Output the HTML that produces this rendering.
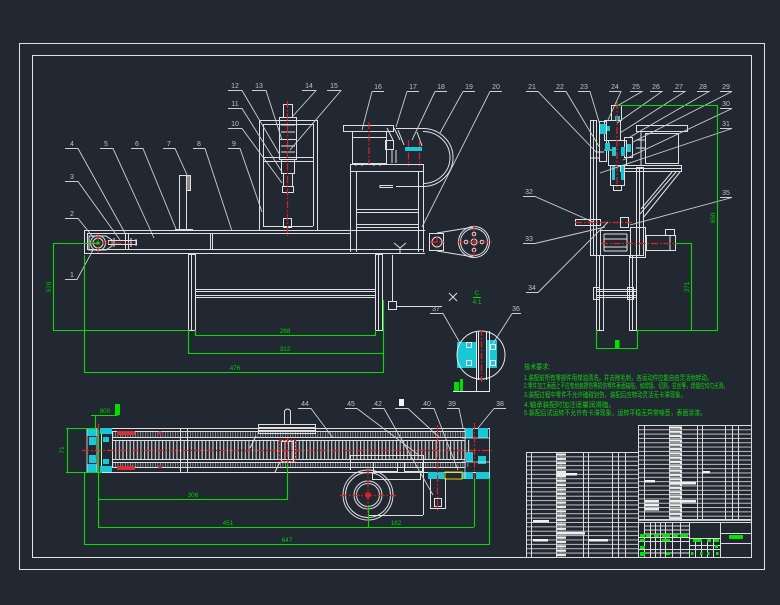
<!DOCTYPE html>
<html><head><meta charset="utf-8"><style>
html,body{margin:0;padding:0;background:#222831;}
svg{display:block}
text{font-family:"Liberation Sans","Noto Sans CJK SC",sans-serif;}
</style></head><body>
<svg width="780" height="605" viewBox="0 0 780 605" xmlns="http://www.w3.org/2000/svg">
<defs>
<pattern id="slat" x="0" y="0" width="3.6" height="10" patternUnits="userSpaceOnUse"><rect x="0" y="0" width="1.1" height="10" fill="#d8d8d8"/></pattern>
<pattern id="tick" x="0" y="0" width="2.5" height="10" patternUnits="userSpaceOnUse"><rect x="0" y="0" width="0.8" height="10" fill="#9a9a9a"/></pattern>
<pattern id="rowsL" x="0" y="452" width="10" height="4.375" patternUnits="userSpaceOnUse"><rect x="0" y="0" width="10" height="0.9" fill="#cfcfcf"/></pattern>
<pattern id="rowsR" x="0" y="425" width="10" height="4.32" patternUnits="userSpaceOnUse"><rect x="0" y="0" width="10" height="0.9" fill="#cfcfcf"/></pattern>
<pattern id="blobL" x="557" y="452" width="40" height="4.375" patternUnits="userSpaceOnUse"><rect x="0" y="1.4" width="9" height="2.2" fill="#f0f0f0"/></pattern>
<pattern id="blobR" x="670" y="425" width="40" height="4.32" patternUnits="userSpaceOnUse"><rect x="0" y="1.4" width="12" height="2.2" fill="#f0f0f0"/></pattern>
<pattern id="blobS" x="0" y="452" width="40" height="4.375" patternUnits="userSpaceOnUse"><rect x="0" y="1.4" width="2" height="2.2" fill="#e8e8e8"/></pattern>
</defs>
<rect width="780" height="605" fill="#222831"/>

<!-- frame -->
<g fill="none" stroke="#e2e2e2" stroke-width="1">
<rect x="19.5" y="43.5" width="745" height="526"/>
<rect x="32.5" y="55.5" width="719" height="502"/>
</g>

<!-- ================= FRONT VIEW ================= -->
<g fill="none" stroke="#e0e0e0" stroke-width="1">
<path d="M84 230.5H425 M87 233.5H350 M87 249.5H350 M84 253.5H425 M84.5 230V254 M87.5 233V250 M125.5 233V250 M128.5 233V250 M210.5 233V250 M212.5 233V250"/>
<circle cx="98" cy="243" r="7.5"/><circle cx="98" cy="243" r="5"/>
<path d="M89 236H106L112 240V246L106 250H89Z"/>
<rect x="108.5" y="240.5" width="28" height="4"/>
<path d="M114 238V247 M131 238V247 M136 239V246"/>
<rect x="179.5" y="175.5" width="7" height="54"/>
<rect x="186.5" y="175.5" width="4" height="15" fill="#888"/>
<path d="M175 229.5H193"/>
<rect x="188.5" y="254.5" width="7" height="76"/><path d="M191.5 255V330"/>
<rect x="375.5" y="254.5" width="7" height="76"/><path d="M378.5 255V330"/>
<path d="M195 289.5H375 M195 291.5H375 M195 295.5H375 M195 297.5H375"/>
<rect x="259.5" y="120.5" width="58" height="110"/>
<path d="M263.5 124V226 M313.5 124V226 M263 124.5H313 M263 157.5H313 M263 161.5H313 M263 226.5H313"/>
<rect x="283.5" y="104.5" width="9" height="13"/>
<rect x="279.5" y="117.5" width="17" height="22"/>
<rect x="279.5" y="139.5" width="17" height="20"/>
<rect x="281.5" y="159.5" width="13" height="14"/>
<rect x="283.5" y="173.5" width="9" height="13"/>
<rect x="282.5" y="186.5" width="11" height="6"/>
<rect x="283.5" y="218.5" width="8" height="9"/>
<path d="M281 125H295 M281 132H295 M281 146H295 M281 152H295"/>
<rect x="343.5" y="125.5" width="50" height="6"/>
<rect x="352.5" y="131.5" width="34" height="32"/>
<path d="M352 137.5H386 M356 163V166 M362 163V166 M374 163V166 M380 163V166"/>
<rect x="350.5" y="164.5" width="73" height="7"/>
<path d="M350.5 172V252 M356.5 172V252 M418.5 172V252 M423.5 172V252 M356 209.5H418 M356 212.5H418 M356 224.5H418 M356 227.5H418 M350 249.5H423"/>
<path d="M393 185.5H380V187.5H393"/>
<path d="M394 243L400 248L406 243 M400 248V253"/>
<path d="M387 128L393 140 M394 128L400 140 M398 130L404 145 M417 132L422 146"/>
<rect x="385.5" y="140.5" width="8" height="9"/>
<path d="M392 150V163 M396 150V163"/>
<path d="M396 128.5H423A30 29 0 0 1 423 186.5H396"/>
<path d="M423 131.5A27 26 0 0 1 423 183.5"/>
<rect x="429.5" y="233.5" width="14" height="17"/>
<circle cx="437" cy="242" r="5"/>
<path d="M437 233L474 227 M437 251L474 257"/>
<circle cx="474" cy="242" r="15.5"/><circle cx="474" cy="242" r="13.5"/>
<circle cx="474" cy="242" r="3"/>
<circle cx="474" cy="234" r="1.8"/><circle cx="482" cy="242" r="1.8"/><circle cx="474" cy="250" r="1.8"/><circle cx="466" cy="242" r="1.8"/>
</g>
<g stroke="#e02020" stroke-width="1.2" fill="none" stroke-dasharray="7 2 1.5 2">
<path d="M98 234V253 M90 243H130 M287.5 101V236 M369 122V164 M408.5 140V166 M419.5 140V166 M437 236V249 M430 242H445 M474 225V259 M457 242H492"/>
</g>
<rect x="405" y="147" width="17" height="4" fill="#19c8d6"/>
<rect x="96.5" y="241.5" width="3" height="3" fill="#00e000"/>

<g fill="none" stroke="#cfcfcf" stroke-width="0.9">
<path d="M65 148.5H78L125 233 M100 148.5H113L154 238 M131 148.5H143L176 229 M163 148.5H175L188 177 M193 148.5H205L232 231 M228 148.5H240L262 212 M65 181.5H78L120 240 M65 218.5H78L93 237 M65 279.5H77L93 250"/>
<path d="M228 128.5H242L282 183 M228 108.5H242L282 172 M228 90.5H242L280 155 M252 90.5H266L282 140 M302 90.5H316L292 117 M327 90.5H341L290 150"/>
<path d="M372 91.5H384 M372 91.5L362 130 M407 91.5H419 M407 91.5L396 127 M435 91.5H447 M435 91.5L412 140 M463 91.5H475 M463 91.5L440 133 M490 91.5H502 M490 91.5L422 227"/>
</g>
<g fill="#c0c0c0" font-size="7" text-anchor="middle">
<text x="72" y="146">4</text><text x="106" y="146">5</text><text x="137" y="146">6</text><text x="169" y="146">7</text><text x="199" y="146">8</text><text x="234" y="146">9</text>
<text x="72" y="179">3</text><text x="72" y="216">2</text><text x="72" y="277">1</text>
<text x="235" y="126">10</text><text x="235" y="106">11</text><text x="235" y="88">12</text><text x="259" y="88">13</text><text x="309" y="88">14</text><text x="334" y="88">15</text>
<text x="378" y="89">16</text><text x="413" y="89">17</text><text x="441" y="89">18</text><text x="469" y="89">19</text><text x="496" y="89">20</text>
</g>

<g fill="none" stroke="#00e000" stroke-width="1.1">
<path d="M53 243.5H98 M53.5 243V330 M53 330.5H188 M84.5 255V373 M84 372.5H383 M383.5 300V373 M188.5 330V353 M195 335.5H375 M195.5 330V336 M375.5 330V336 M188 353.5H383"/>
</g>
<g fill="#00c800" font-size="6.5" text-anchor="middle">
<text x="285" y="333">288</text><text x="285" y="351">312</text><text x="235" y="370">476</text>
<text transform="translate(51,287) rotate(-90)">570</text>
</g>

<!-- ================= SIDE VIEW ================= -->
<g fill="none" stroke="#e0e0e0" stroke-width="1">
<rect x="590.5" y="120.5" width="6" height="135"/><path d="M593.5 121V255"/>
<rect x="596.5" y="255.5" width="7" height="75"/><path d="M599.5 256V330"/>
<rect x="629.5" y="255.5" width="7" height="75"/><path d="M632.5 256V330"/>
<rect x="636.5" y="167.5" width="7" height="88"/><path d="M639.5 168V255"/>
<path d="M596 289.5H637 M596 291.5H637 M596 295.5H637 M596 297.5H637"/>
<rect x="593.5" y="287.5" width="6" height="12"/><rect x="627.5" y="287.5" width="6" height="12"/>
<rect x="611.5" y="105.5" width="10" height="15"/>
<rect x="604.5" y="120.5" width="16" height="20"/>
<rect x="608.5" y="140.5" width="18" height="25"/>
<rect x="610.5" y="165.5" width="14" height="20"/>
<rect x="599.5" y="121.5" width="7" height="40"/>
<rect x="624.5" y="137.5" width="8" height="20"/>
<rect x="613.5" y="185.5" width="8" height="5"/>
<path d="M604 150H612 M596 152H604 M590 158H600"/>
<rect x="620.5" y="165.5" width="61" height="6"/><path d="M622 168.5H681"/>
<rect x="645.5" y="133.5" width="33" height="30"/>
<rect x="636.5" y="125.5" width="51" height="6"/>
<path d="M641 131V165 M636 140H645 M636 148H645"/>
<path d="M676 172L640 214 M680 172L643 218 M672 172L641 209"/>
<rect x="575.5" y="219.5" width="25" height="6"/>
<rect x="620.5" y="217.5" width="8" height="10"/>
<rect x="600.5" y="230.5" width="30" height="25"/>
<path d="M604 234H627 M604 251H627 M604 239H627 M604 247H627 M604 234V251 M627 234V251"/>
<rect x="630.5" y="227.5" width="15" height="30"/>
<rect x="646.5" y="235.5" width="29" height="15"/>
<rect x="665.5" y="229.5" width="9" height="6"/>
<path d="M670 236V250"/>
</g>
<g fill="#19c8d6">
<rect x="600" y="124" width="6" height="10"/><rect x="605" y="143" width="5" height="8"/>
<rect x="612" y="147" width="4" height="9"/><rect x="621" y="147" width="4" height="9"/>
<rect x="612" y="166" width="3" height="14"/><rect x="621" y="166" width="3" height="14"/>
<rect x="607" y="126" width="3" height="5"/><rect x="615" y="116" width="5" height="4"/>
<rect x="627" y="144" width="4" height="8"/>
</g>
<g stroke="#e02020" stroke-width="1.2" fill="none" stroke-dasharray="7 2 1.5 2">
<path d="M617 102V190 M575 222.5H632 M601 243.5H678"/>
</g>
<g fill="none" stroke="#cfcfcf" stroke-width="0.9">
<path d="M526 91.5H538L597 153 M554 91.5H566L600 148 M578 91.5H590L600 125 M609 91.5H621L608 120 M630 91.5H642L617 106 M650 91.5H662L617 123 M673 91.5H685L620 133 M697 91.5H709L630 137 M720 91.5H732L633 142 M720 108.5H732L623 160 M720 128.5H732L600 173 M523 196.5H535L593 222 M523 243.5H535L605 227 M526 292.5H538L608 222 M720 197.5H732L630 225"/>
</g>
<g fill="#c0c0c0" font-size="7" text-anchor="middle">
<text x="532" y="89">21</text><text x="560" y="89">22</text><text x="584" y="89">23</text><text x="615" y="89">24</text><text x="636" y="89">25</text><text x="656" y="89">26</text><text x="679" y="89">27</text><text x="703" y="89">28</text><text x="726" y="89">29</text>
<text x="726" y="106">30</text><text x="726" y="126">31</text><text x="529" y="194">32</text><text x="529" y="241">33</text><text x="532" y="290">34</text><text x="726" y="195">35</text>
</g>
<g fill="none" stroke="#00e000" stroke-width="1.1">
<path d="M617 105.5H717.5V330.5H637 M675 243.5H691.5V330 M596.5 330V348.5H637.5V330"/>
</g>
<rect x="615" y="340" width="4.5" height="8" fill="#00e000"/>
<g fill="#00c800" font-size="6.5" text-anchor="middle">
<text transform="translate(715,218) rotate(-90)">650</text>
<text transform="translate(689,287) rotate(-90)">371</text>
</g>

<!-- ================= DETAIL C ================= -->
<g fill="none" stroke="#e0e0e0" stroke-width="1">
<path d="M392.5 255V301 M397 306.5H442"/>
<rect x="388.5" y="301.5" width="8" height="8"/>
<path d="M449 293L457 301 M457 293L449 301"/>
</g>
<rect x="457" y="342" width="20" height="26" fill="#19c8d6"/>
<rect x="486" y="340" width="11" height="28" fill="#19c8d6"/>
<g fill="none" stroke="#e8e8e8" stroke-width="1">
<circle cx="481" cy="355" r="24"/>
<path d="M476.5 331V391 M478.5 331V380 M486.5 331V380 M489.5 331V391 M453 391.5H490"/>
<rect x="466.5" y="342.5" width="5" height="5"/><rect x="490.5" y="344.5" width="5" height="5"/><rect x="466.5" y="360.5" width="5" height="5"/><rect x="490.5" y="360.5" width="5" height="5"/>
</g>
<path d="M481.5 330V382" stroke="#e02020" stroke-width="1.2" stroke-dasharray="6 2 1.5 2"/>
<rect x="454" y="382" width="5" height="9" fill="#00e000"/><rect x="460" y="379" width="3" height="12" fill="#00e000"/>
<path d="M473 297.5H481" stroke="#00e000"/>
<g fill="#00c800" font-size="6.5" text-anchor="middle"><text x="477" y="295">C</text><text x="477" y="304">4:1</text></g>
<g fill="none" stroke="#cfcfcf" stroke-width="0.9"><path d="M430 313.5H443L460 343 M512 313.5H521 M512 313.5L492 345"/></g>
<g fill="#c0c0c0" font-size="7" text-anchor="middle"><text x="436" y="311">37</text><text x="516" y="311">36</text></g>

<!-- notes -->
<g fill="#10d010" font-size="7">
<text x="524" y="369" textLength="26" lengthAdjust="spacingAndGlyphs">技术要求:</text>
<text x="524" y="380" textLength="188" lengthAdjust="spacingAndGlyphs">1.装配前所有零部件用煤油清洗，并去除毛刺，各运动件应能自由灵活地转动。</text>
<text x="524" y="388" textLength="204" lengthAdjust="spacingAndGlyphs">2.零件加工表面上不应有划痕擦伤等损伤零件表面缺陷，如焊接、切割、拉丝等，焊缝应均匀光滑。</text>
<text x="524" y="397" textLength="162" lengthAdjust="spacingAndGlyphs">3.装配过程中零件不允许磕碰划伤，装配后应转动灵活无卡滞现象。</text>
<text x="524" y="407" textLength="91" lengthAdjust="spacingAndGlyphs">4.轴承装配时加注适量润滑脂。</text>
<text x="524" y="415" textLength="182" lengthAdjust="spacingAndGlyphs">5.装配后试运转不允许有卡滞现象，运转平稳无异常噪音，表面涂漆。</text>
</g>

<!-- ================= PLAN VIEW ================= -->
<rect x="112" y="440" width="358" height="20" fill="url(#slat)"/>
<rect x="112" y="432" width="358" height="5" fill="url(#tick)"/>
<rect x="112" y="463" width="358" height="4" fill="url(#tick)"/>
<g fill="none" stroke="#e0e0e0" stroke-width="1">
<path d="M100 428.5H490 M100 431.5H465 M112 437.5H465 M112 440.5H465 M112 459.5H465 M112 462.5H465 M100 467.5H465 M100 472.5H490"/>
<path d="M101.5 428V473 M112.5 431V468"/>
<rect x="180.5" y="428.5" width="7" height="44"/>
<rect x="258.5" y="424.5" width="57" height="9"/><path d="M258 427.5H315 M258 430.5H315"/>
<path d="M284.5 424V411Q287.5 407 290.5 411V424"/>
<rect x="281.5" y="441.5" width="12" height="20"/>
<path d="M350.5 455V470 M350 455.5H423.5V515 M423 515.5H368"/>
<circle cx="368" cy="495" r="25"/><circle cx="368" cy="495" r="22.5"/>
<circle cx="368" cy="495" r="14"/><circle cx="368" cy="495" r="11.5"/>
<rect x="373.5" y="462.5" width="24" height="9"/><rect x="404.5" y="462.5" width="18" height="9"/>
<rect x="372.5" y="472.5" width="48" height="7"/>
<rect x="430.5" y="478.5" width="15" height="30"/><rect x="434.5" y="498.5" width="7" height="8"/>
<path d="M256 436L250 448 M280 462L275 472"/>
</g>
<g fill="#19c8d6">
<rect x="87" y="428" width="10" height="8"/><rect x="100" y="428" width="12" height="6"/>
<rect x="89" y="437" width="7" height="8"/><rect x="89" y="455" width="7" height="8"/>
<rect x="87" y="464" width="10" height="8"/><rect x="100" y="466" width="12" height="6"/>
<rect x="103" y="437" width="6" height="5"/><rect x="103" y="459" width="6" height="5"/>
<rect x="465" y="428" width="8" height="10"/><rect x="478" y="428" width="10" height="10"/>
<rect x="466" y="452" width="7" height="10"/><rect x="478" y="456" width="8" height="8"/>
<rect x="428" y="472" width="16" height="7"/><rect x="462" y="472" width="11" height="7"/><rect x="476" y="472" width="14" height="7"/>
</g>
<rect x="445" y="472" width="17" height="7" fill="none" stroke="#e6d200" stroke-width="1"/>
<g fill="none" stroke="#e6e6e6" stroke-width="0.8">
<path d="M87 428V472 M97 428V472 M465 428V479 M489.5 428V479 M462 438H490 M462 462H490"/>
</g>
<rect x="117" y="431" width="18" height="4" fill="#d83030"/><rect x="117" y="466" width="18" height="4" fill="#d83030"/>
<g stroke="#e02020" stroke-width="1.2" fill="none" stroke-dasharray="7 2 1.5 2">
<path d="M82 450.5H492 M98.5 424V476 M474.5 423V480 M437.5 425V511 M368 468V521 M340 495.5H396 M287.5 438V466"/>
<path d="M280 440.5H295 M280 461.5H295 M279.5 440V462 M295.5 440V462" stroke-dasharray="2 1.5"/>
</g>
<circle cx="160" cy="433" r="1.6" fill="#e02020"/><circle cx="160" cy="467" r="1.6" fill="#e02020"/>
<circle cx="368" cy="495" r="3" fill="#e02020"/>
<g fill="none" stroke="#cfcfcf" stroke-width="0.9">
<path d="M298 408.5H311L333 438 M345 408.5H357L420 456 M372 408.5H384L433 495 M395 408.5H408L440 438 M421 408.5H434L458 470 M447 408.5H459L463 428 M494 408.5H506 M494 408.5L478 428"/>
</g>
<g fill="#c0c0c0" font-size="7" text-anchor="middle">
<text x="305" y="406">44</text><text x="351" y="406">45</text><text x="378" y="406">42</text><text x="427" y="406">40</text><text x="452" y="406">39</text><text x="500" y="406">38</text>
</g>
<rect x="399" y="399" width="5" height="7" fill="#f2f2f2"/>
<g fill="none" stroke="#00e000" stroke-width="1.1">
<path d="M66 428.5H96 M66 472.5H102 M67.5 428V472 M91 415.5H118 M95.5 415V428 M84.5 472V545 M84 544.5H490 M489.5 478V545 M98.5 430V527 M98 499.5H287 M287.5 462V500 M98 527.5H474 M474.5 478V527 M368.5 505V527"/>
</g>
<rect x="115" y="404" width="5" height="11" fill="#00e000"/>
<g fill="#00c800" font-size="6.5" text-anchor="middle">
<text x="105" y="413">800</text>
<text x="193" y="497">306</text><text x="228" y="525">451</text><text x="287" y="542">647</text><text x="396" y="525">182</text>
<text transform="translate(64,450) rotate(-90)">71</text>
</g>

<!-- ================= TITLE BLOCK ================= -->
<rect x="526" y="452" width="112" height="105" fill="url(#rowsL)"/>
<rect x="557" y="452" width="14" height="105" fill="url(#blobL)"/>
<rect x="532" y="452" width="60" height="105" fill="url(#blobS)"/>
<rect x="638" y="425" width="113" height="96" fill="url(#rowsR)"/>
<rect x="670" y="425" width="16" height="96" fill="url(#blobR)"/>
<rect x="645" y="425" width="60" height="96" fill="url(#blobS)"/>
<g fill="#f0f0f0">
<rect x="533" y="520" width="16" height="2.5"/><rect x="557" y="473" width="20" height="2.5"/><rect x="557" y="532" width="28" height="2.5"/>
<rect x="588" y="539" width="20" height="2.5"/><rect x="533" y="539" width="15" height="2.5"/><rect x="645" y="480" width="10" height="2.5"/>
<rect x="645" y="500" width="14" height="2.5"/><rect x="645" y="504" width="14" height="2.5"/><rect x="645" y="508" width="14" height="2.5"/>
<rect x="670" y="482" width="26" height="2.5"/><rect x="670" y="500" width="26" height="2.5"/><rect x="702" y="471" width="8" height="2.5"/>
</g>
<g fill="none" stroke="#dcdcdc" stroke-width="1">
<rect x="526.5" y="452.5" width="112" height="105"/>
<path d="M531.5 452V557 M556.5 452V557 M583.5 452V557 M588.5 452V557 M612.5 452V557 M618.5 452V557 M625.5 452V557"/>
<rect x="638.5" y="425.5" width="113" height="132"/>
<path d="M644.5 425V520 M669.5 425V520 M697.5 425V520 M702.5 425V520 M725.5 425V520 M732.5 425V520 M738.5 425V520"/>
<path d="M638 519.5H751 M638 522.5H751 M689.5 522V557 M720.5 522V557 M720 533.5H751 M720 543.5H751 M638 537.5H689 M638 541.5H689 M638 549.5H689 M689 538.5H720 M689 545.5H720 M689 549.5H720"/>
<path d="M644.5 522V557 M650.5 522V557 M655.5 522V557 M660.5 522V557 M665.5 522V557 M672.5 522V557 M680.5 522V557 M695.5 538V557 M701.5 538V557 M707.5 538V557 M713.5 538V557"/>
<path d="M644 526H689 M644 530H689 M644 534H689 M644 553H689"/>
</g>
<g fill="#00e800">
<rect x="729" y="535" width="14" height="4"/>
<rect x="640" y="534" width="5" height="3"/><rect x="646" y="534" width="4" height="3"/><rect x="654" y="534" width="5" height="3"/><rect x="662" y="534" width="8" height="3"/><rect x="673" y="534" width="5" height="3"/><rect x="680" y="534" width="8" height="3"/>
<rect x="640" y="539" width="5" height="2.5"/><rect x="662" y="539" width="8" height="2.5"/>
<rect x="640" y="546" width="5" height="3"/><rect x="640" y="552" width="5" height="4"/><rect x="666" y="552" width="4" height="3"/>
<rect x="693" y="539" width="9" height="3"/><rect x="707" y="539" width="4" height="3"/><rect x="714" y="539" width="5" height="3"/><rect x="715" y="545" width="3" height="3"/>
<rect x="691" y="552" width="2.5" height="3"/><rect x="700" y="552" width="2.5" height="3"/><rect x="707" y="552" width="2.5" height="3"/><rect x="716" y="552" width="2.5" height="3"/>
</g>
</svg>
</body></html>
